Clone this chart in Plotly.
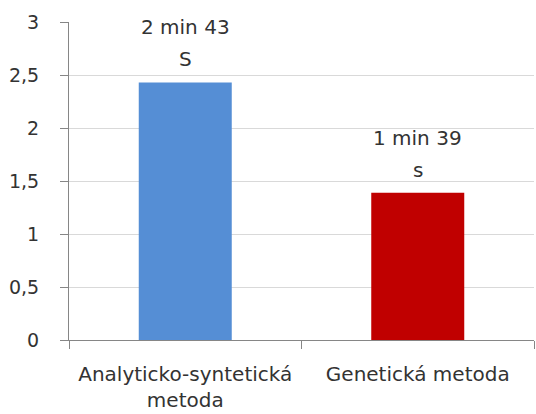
import plotly.graph_objects as go

# Time per method (minutes, bar height) and the label written above each bar
methods = ["Analyticko-syntetická metoda", "Genetická metoda"]
tick_text = ["Analyticko-syntetická<br>metoda", "Genetická metoda"]
times = [2.43, 1.39]
label_main = ["2 min 43", "1 min 39"]
label_unit = ["S", "s"]
bar_colors = ["#558ed5", "#c00000"]

y_ticks = [0, 0.5, 1, 1.5, 2, 2.5, 3]
y_tick_text = ["0", "0,5", "1", "1,5", "2", "2,5", "3"]

font_family = "DejaVu Sans, sans-serif"
text_color = "#333333"

fig = go.Figure(
    go.Bar(
        x=methods,
        y=times,
        marker=dict(color=bar_colors, line=dict(width=0)),
        hoverinfo="skip",
    )
)

# Two-line value labels above the bars
for m, v, top, unit in zip(methods, times, label_main, label_unit):
    fig.add_annotation(x=m, y=v, text=unit, showarrow=False, yanchor="middle",
                       yshift=23, font=dict(size=20, color=text_color, family=font_family))
    fig.add_annotation(x=m, y=v, text=top, showarrow=False, yanchor="middle",
                       yshift=55, font=dict(size=20, color=text_color, family=font_family))

fig.update_layout(
    width=536,
    height=414,
    margin=dict(l=69, r=2, t=22, b=74),
    paper_bgcolor="white",
    plot_bgcolor="white",
    bargap=0.6,
    showlegend=False,
    font=dict(family=font_family, size=20, color=text_color),
)

fig.update_xaxes(
    tickmode="array",
    tickvals=methods,
    ticktext=tick_text,
    tickson="boundaries",
    ticks="outside",
    ticklen=8,
    tickcolor="#868686",
    ticklabelstandoff=16,
    showline=True,
    linecolor="#868686",
    linewidth=1,
    showgrid=False,
    automargin=False,
    tickfont=dict(size=20, color=text_color),
)

fig.update_yaxes(
    range=[0, 3],
    tickmode="array",
    tickvals=y_ticks,
    ticktext=y_tick_text,
    ticks="outside",
    ticklen=8,
    tickcolor="#868686",
    ticklabelstandoff=17,
    showline=True,
    linecolor="#868686",
    linewidth=1,
    showgrid=True,
    gridcolor="#d9d9d9",
    gridwidth=1,
    zeroline=False,
    automargin=False,
    tickfont=dict(size=19, color=text_color),
)

fig.write_html("out.html")
